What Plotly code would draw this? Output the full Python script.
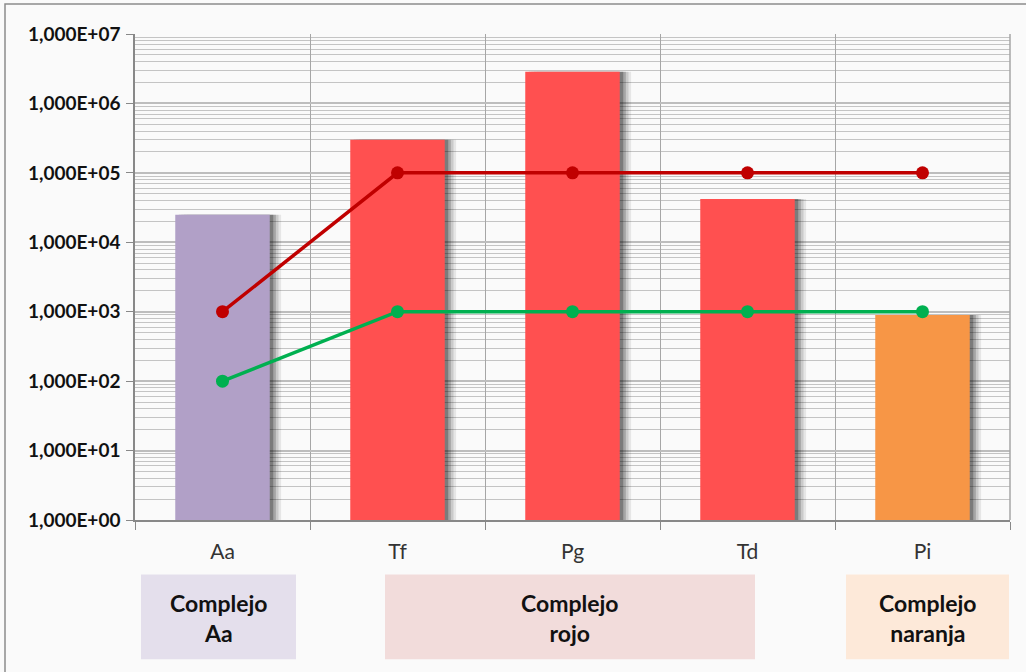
import plotly.graph_objects as go

categories = ["Aa", "Tf", "Pg", "Td", "Pi"]
bar_values = [25000, 300000, 2850000, 42000, 900]
bar_colors = ["#B1A0C7", "#FF5050", "#FF5050", "#FF5050", "#F79646"]
red_line = [1000, 100000, 100000, 100000, 100000]
green_line = [100, 1000, 1000, 1000, 1000]
tick_vals = [1, 10, 100, 1000, 10000, 100000, 1000000, 10000000]
tick_text = ["1,000E+00", "1,000E+01", "1,000E+02", "1,000E+03",
             "1,000E+04", "1,000E+05", "1,000E+06", "1,000E+07"]
minor_vals = [m * d for d in tick_vals[:-1] for m in range(2, 10)]
groups = [("Complejo<br>Aa", "#E4DFEC", 141, 296),
          ("Complejo<br>rojo", "#F2DCDB", 385, 755),
          ("Complejo<br>naranja", "#FDE9D9", 846, 1009)]

W, H = 1026, 672
L, R, T, B = 135, 16, 34, 151.5
PW, PH = W - L - R, H - T - B

def px(x):
    return (x - L) / PW

def py(y):
    return (H - B - y) / PH

BW = 0.54
fig = go.Figure()
# soft drop shadows
for dx, alpha in [(0.065, 0.08), (0.05, 0.12), (0.035, 0.18), (0.02, 0.25)]:
    fig.add_trace(go.Bar(x=categories, y=bar_values, width=BW, offset=-BW / 2 + dx,
                         marker=dict(color=f"rgba(0,0,0,{alpha})", line=dict(width=0)),
                         hoverinfo="skip", showlegend=False))
fig.add_trace(go.Bar(x=categories, y=bar_values, width=BW, offset=-BW / 2,
                     marker=dict(color=bar_colors, line=dict(width=0)), showlegend=False))
fig.add_trace(go.Scatter(x=categories, y=red_line, mode="lines+markers",
                         line=dict(color="#C00000", width=3.5),
                         marker=dict(color="#C00000", size=13), showlegend=False))
fig.add_trace(go.Scatter(x=categories, y=green_line, mode="lines+markers",
                         line=dict(color="#00B050", width=3.5),
                         marker=dict(color="#00B050", size=13), showlegend=False))

shapes = [dict(type="rect", xref="paper", yref="paper",
               x0=px(5), x1=px(1040), y0=py(690), y1=py(4),
               line=dict(color="#8C8C8C", width=1.5), fillcolor="rgba(0,0,0,0)", layer="below")]
annotations = []
for text, color, x0, x1 in groups:
    shapes.append(dict(type="rect", xref="paper", yref="paper",
                       x0=px(x0), x1=px(x1), y0=py(660), y1=py(575),
                       line=dict(width=0), fillcolor=color, layer="below"))
    annotations.append(dict(xref="paper", yref="paper", x=(px(x0) + px(x1)) / 2,
                            y=py(619), text=text, showarrow=False,
                            font=dict(family="Lato", size=23, color="#111111", weight="bold"),
                            xanchor="center", yanchor="middle"))

fig.update_layout(
    width=W, height=H,
    margin=dict(l=L, r=R, t=T, b=B),
    paper_bgcolor="#FAFAFA", plot_bgcolor="#FAFAFA",
    barmode="overlay",
    shapes=shapes, annotations=annotations,
    xaxis=dict(type="category", tickson="boundaries", ticks="outside", ticklen=8,
               tickcolor="#888888", showgrid=True, gridcolor="#A6A6A6", gridwidth=1,
               showline=True, linecolor="#888888", linewidth=1.5, mirror=False,
               tickfont=dict(family="Lato", size=21, color="#333333"),
               ticklabelstandoff=12,
               range=[-0.5, 4.5]),
    yaxis=dict(type="log", range=[0, 7], tickvals=tick_vals, ticktext=tick_text,
               ticks="outside", ticklen=7, tickcolor="#888888",
               showgrid=True, gridcolor="#BDBDBD", gridwidth=1.5,
               showline=True, linecolor="#888888", linewidth=1.5,
               minor=dict(tickmode="array", tickvals=minor_vals, showgrid=True,
                          gridcolor="#C4C4C4", gridwidth=1, ticks=""),
               tickfont=dict(family="Lato", size=19, color="#111111", weight="bold"),
               ticklabelstandoff=2,
               zeroline=False),
)
fig.add_shape(type="line", xref="paper", yref="paper", x0=1, x1=1, y0=0, y1=1,
              line=dict(color="#A6A6A6", width=1.5))
fig.write_html("out.html", config={"displayModeBar": False},
               post_script="document.body.style.margin='0';document.body.style.background='#FAFAFA';")
